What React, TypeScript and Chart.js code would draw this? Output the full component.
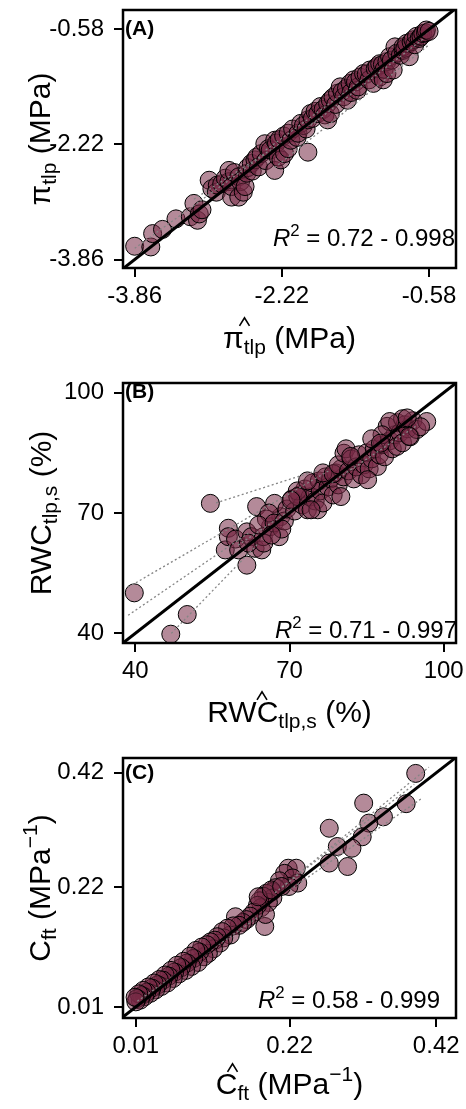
import React, { useEffect, useRef } from "react";
import { Chart, registerables } from "chart.js";

Chart.register(...registerables);

// ---------------- DATA ----------------
// Panel A: turgor loss point (predicted vs observed), MPa
const A_POINTS: number[][] = [
  [-3.86, -3.67], [-3.68, -3.68], [-3.66, -3.49], [-3.55, -3.43], [-3.40, -3.28],
  [-3.24, -3.25], [-3.20, -3.06], [-3.16, -3.30], [-3.14, -3.21], [-3.11, -3.15],
  [-3.03, -2.73], [-3.00, -2.85], [-2.95, -2.90], [-2.94, -2.80], [-2.89, -2.78],
  [-2.85, -2.70], [-2.81, -2.75], [-2.81, -2.59], [-2.78, -2.97], [-2.78, -2.82],
  [-2.75, -2.62], [-2.70, -2.97], [-2.70, -2.68], [-2.68, -2.75], [-2.65, -2.90],
  [-2.63, -2.82], [-2.61, -2.63], [-2.60, -2.55], [-2.56, -2.49], [-2.55, -2.60],
  [-2.52, -2.44], [-2.50, -2.40], [-2.48, -2.54], [-2.45, -2.35], [-2.41, -2.21],
  [-2.40, -2.45], [-2.37, -2.28], [-2.35, -2.30], [-2.30, -2.16], [-2.30, -2.59],
  [-2.28, -2.20], [-2.26, -2.40], [-2.25, -2.15], [-2.23, -2.44], [-2.20, -2.10],
  [-2.19, -2.35], [-2.15, -2.28], [-2.15, -2.06], [-2.12, -2.16], [-2.10, -2.00],
  [-2.05, -2.12], [-2.04, -2.06], [-2.01, -1.92], [-1.98, -1.95], [-1.95, -2.00],
  [-1.93, -2.33], [-1.93, -1.87], [-1.90, -1.78], [-1.88, -1.85], [-1.85, -1.75],
  [-1.82, -1.78], [-1.79, -1.68], [-1.76, -1.72], [-1.74, -1.80], [-1.71, -1.64],
  [-1.71, -1.87], [-1.68, -1.59], [-1.68, -1.78], [-1.65, -1.55], [-1.62, -1.65],
  [-1.60, -1.49], [-1.57, -1.40], [-1.55, -1.47], [-1.53, -1.54], [-1.50, -1.42],
  [-1.49, -1.59], [-1.46, -1.35], [-1.45, -1.48], [-1.42, -1.30], [-1.40, -1.33],
  [-1.38, -1.45], [-1.37, -1.40], [-1.35, -1.26], [-1.31, -1.21], [-1.28, -1.22],
  [-1.25, -1.30], [-1.24, -1.16], [-1.20, -1.35], [-1.18, -1.14], [-1.16, -1.11],
  [-1.13, -1.07], [-1.13, -1.26], [-1.10, -1.08], [-1.09, -1.30], [-1.08, -1.15],
  [-1.05, -1.04], [-1.05, -1.21], [-1.02, -0.97], [-1.00, -1.02], [-0.98, -1.16],
  [-0.96, -0.83], [-0.94, -0.92], [-0.90, -0.95], [-0.87, -0.88], [-0.87, -0.83],
  [-0.85, -0.85], [-0.83, -0.78], [-0.80, -0.97], [-0.78, -0.76], [-0.76, -0.73],
  [-0.74, -0.80], [-0.72, -0.68], [-0.69, -0.71], [-0.67, -0.68], [-0.65, -0.64],
  [-0.62, -0.63], [-0.61, -0.59], [-0.58, -0.61],
];
// grey dotted per-group fits: [x1, y1, x2, y2]
const A_FITS: number[][] = [
  [-3.86, -3.70, -2.40, -2.35],
  [-2.30, -2.55, -0.58, -0.80],
  [-2.40, -2.30, -0.60, -0.62],
  [-3.20, -3.00, -1.80, -1.85],
  [-1.90, -1.95, -0.65, -0.72],
];
const A_IDENTITY = [-4.2, 0];
const A_X_RANGE = [-3.99, -0.28];
const A_Y_RANGE = [-3.98, -0.305];
const A_TICKS = [-3.86, -2.22, -0.58];
const A_TICK_LABELS = ["-3.86", "-2.22", "-0.58"];
const A_R2 = "0.72 - 0.998";

// Panel B: relative water content at turgor loss point, %
const B_POINTS: number[][] = [
  [39.8, 50.1], [46.9, 39.8], [50.1, 44.7], [54.6, 72.4],
  [57.5, 60.8], [58.1, 66.2], [58.1, 64.1], [59.5, 63.5], [60.1, 60.8], [61.7, 65.3],
  [61.7, 57.0], [62.6, 64.1], [63.3, 61.2], [64.6, 60.8], [63.6, 71.6], [64.9, 64.1],
  [66.3, 66.6], [68.0, 64.1], [68.3, 69.1], [67.1, 72.4], [65.5, 68.5], [66.0, 70.0],
  [64.0, 67.0], [62.0, 62.5], [67.0, 67.5], [69.0, 68.0], [69.5, 71.0], [68.5, 66.0],
  [65.0, 62.5], [66.5, 64.5],
  [70.5, 73.5], [71.0, 70.5], [72.0, 74.5], [72.5, 72.0], [73.0, 76.0], [73.5, 70.8],
  [74.0, 74.0], [74.5, 77.5], [75.0, 73.0], [75.5, 70.8], [75.8, 78.0], [76.0, 75.5],
  [76.5, 72.5], [77.0, 79.0], [77.5, 76.5], [78.0, 78.5], [78.5, 74.5], [79.0, 80.0],
  [79.5, 77.0], [80.0, 74.1], [80.5, 79.0], [80.0, 81.0], [71.5, 75.5], [73.5, 78.0],
  [76.5, 80.0], [78.5, 79.8], [79.5, 82.0], [74.2, 70.8], [71.6, 74.1], [70.3, 73.2],
  [80.6, 84.9], [81.0, 86.0], [81.5, 80.5], [82.0, 83.5], [82.5, 78.5], [83.0, 81.5],
  [83.5, 84.5], [84.0, 79.5], [84.5, 82.0], [85.0, 85.0], [85.5, 81.0], [86.0, 83.5],
  [86.5, 86.0], [87.1, 81.6], [87.5, 84.5], [88.0, 87.0], [88.5, 84.0], [89.0, 91.6],
  [89.5, 88.0], [90.0, 86.0], [90.5, 89.5], [90.9, 86.6], [91.0, 92.5], [91.5, 90.0],
  [92.0, 87.5], [92.5, 92.0], [93.0, 91.0], [93.5, 89.0], [94.0, 93.0], [94.8, 90.8],
  [96.7, 92.8], [95.5, 91.5], [92.0, 93.5], [89.5, 92.8], [88.0, 89.5], [86.0, 88.5],
  [85.2, 78.3], [81.9, 84.1], [87.7, 87.4], [92.9, 93.7], [93.3, 89.1],
];
const B_FITS: number[][] = [
  [38.6, 51.5, 78.0, 80.8],
  [55.7, 72.5, 75.6, 80.7],
  [38.6, 44.5, 62.0, 65.0],
  [47.0, 40.0, 64.0, 62.5],
  [60.0, 62.0, 95.0, 92.0],
];
const B_IDENTITY = [30, 110];
const B_X_RANGE = [37.6, 102.4];
const B_Y_RANGE = [37.6, 102.4];
const B_TICKS = [40, 70, 100];
const B_TICK_LABELS = ["40", "70", "100"];
const B_R2 = "0.71 - 0.997";

// Panel C: capacitance at full turgor, MPa^-1
const C_POINTS: number[][] = [
  [0.392, 0.419], [0.379, 0.366], [0.321, 0.367], [0.348, 0.343], [0.328, 0.332],
  [0.274, 0.323], [0.319, 0.308], [0.285, 0.291], [0.305, 0.288], [0.274, 0.262],
  [0.299, 0.256],
  [0.218, 0.253], [0.229, 0.253], [0.213, 0.244], [0.231, 0.227], [0.224, 0.236],
  [0.219, 0.221], [0.206, 0.231], [0.201, 0.219], [0.196, 0.212], [0.188, 0.209],
  [0.197, 0.201], [0.191, 0.193], [0.184, 0.204], [0.179, 0.196], [0.186, 0.151],
  [0.181, 0.184], [0.187, 0.172], [0.176, 0.188], [0.171, 0.176], [0.166, 0.169],
  [0.161, 0.163], [0.156, 0.158], [0.146, 0.168], [0.151, 0.153], [0.177, 0.203],
  [0.195, 0.215], [0.209, 0.221],
  [0.143, 0.152], [0.139, 0.136], [0.135, 0.148], [0.130, 0.131], [0.128, 0.142],
  [0.125, 0.122], [0.121, 0.133], [0.118, 0.127], [0.116, 0.112], [0.112, 0.124],
  [0.109, 0.104], [0.107, 0.119], [0.103, 0.098], [0.100, 0.115], [0.097, 0.106],
  [0.095, 0.088], [0.092, 0.109], [0.089, 0.095], [0.086, 0.081], [0.084, 0.099],
  [0.080, 0.087], [0.078, 0.074], [0.075, 0.090], [0.072, 0.079], [0.069, 0.068],
  [0.066, 0.083], [0.063, 0.071], [0.061, 0.060], [0.058, 0.074], [0.055, 0.064],
  [0.053, 0.052], [0.050, 0.066], [0.047, 0.057], [0.045, 0.046], [0.042, 0.058],
  [0.040, 0.049], [0.037, 0.040], [0.035, 0.052], [0.032, 0.043], [0.030, 0.034],
  [0.027, 0.045], [0.025, 0.036], [0.022, 0.028], [0.020, 0.039], [0.018, 0.030],
  [0.016, 0.022], [0.014, 0.033], [0.012, 0.025], [0.010, 0.019], [0.009, 0.027],
];
const C_FITS: number[][] = [
  [0.20, 0.21, 0.41, 0.43],
  [0.22, 0.215, 0.40, 0.375],
  [0.21, 0.22, 0.39, 0.40],
  [0.012, 0.014, 0.20, 0.20],
  [0.012, 0.02, 0.18, 0.17],
];
const C_IDENTITY = [-0.05, 0.5];
const C_X_RANGE = [-0.0075, 0.447];
const C_Y_RANGE = [-0.0093, 0.446];
const C_TICKS = [0.01, 0.22, 0.42];
const C_TICK_LABELS = ["0.01", "0.22", "0.42"];
const C_R2 = "0.58 - 0.999";

// ---------------- STYLE ----------------
const FONT = '"Liberation Sans", Arial, Helvetica, sans-serif';
const POINT_FILL = "rgba(118, 42, 70, 0.55)";
const FIT_COLOR = "#858585";
const TICK_SIZE = 24;
const TITLE_SIZE = 30;
const R2_SIZE = 24;
const LABEL_SIZE = 21;

type Run = { t: string; k?: "sub" | "sup" | "it"; hat?: boolean };

interface PanelSpec {
  label: string;
  points: number[][];
  fits: number[][];
  identity: number[];
  xRange: number[];
  yRange: number[];
  ticks: number[];
  tickLabels: string[];
  r2: string;
  xTitle: Run[];
  yTitle: Run[];
  canvasTop: number;
  canvasHeight: number;
  area: { left: number; right: number; top: number; bottom: number };
  xTitleBaseline: number;
  yTitleBaseline: number;
  r2Right: number;
  r2Baseline: number;
}

function runSize(r: Run, size: number) {
  return r.k === "sub" || r.k === "sup" ? size * 0.7 : size;
}
function runFont(r: Run, size: number) {
  return `${r.k === "it" ? "italic " : ""}${runSize(r, size)}px ${FONT}`;
}
function runDy(r: Run, size: number) {
  if (r.k === "sub") return size * 0.2;
  if (r.k === "sup") return -size * 0.42;
  return 0;
}
function layoutRuns(ctx: CanvasRenderingContext2D, runs: Run[], size: number) {
  let x = 0;
  const items: { r: Run; x: number; w: number }[] = [];
  for (const r of runs) {
    ctx.font = runFont(r, size);
    const w = ctx.measureText(r.t).width;
    items.push({ r, x, w });
    x += w;
  }
  return { items, width: x };
}
function drawRuns(
  ctx: CanvasRenderingContext2D,
  lay: { items: { r: Run; x: number; w: number }[]; width: number },
  x0: number,
  y0: number,
  size: number
) {
  ctx.textBaseline = "alphabetic";
  ctx.textAlign = "left";
  ctx.fillStyle = "#000";
  let hMin = Infinity;
  let hMax = -Infinity;
  for (const it of lay.items) {
    ctx.font = runFont(it.r, size);
    ctx.fillText(it.r.t, x0 + it.x, y0 + runDy(it.r, size));
    if (it.r.hat) {
      hMin = Math.min(hMin, x0 + it.x);
      hMax = Math.max(hMax, x0 + it.x + it.w);
    }
  }
  if (hMin < hMax) {
    const hx = (hMin + hMax) / 2;
    const hb = y0 - size * 0.74;
    ctx.beginPath();
    ctx.moveTo(hx - 5, hb);
    ctx.lineTo(hx, hb - 8);
    ctx.lineTo(hx + 5, hb);
    ctx.lineWidth = 1.6;
    ctx.strokeStyle = "#000";
    ctx.stroke();
  }
}

function makePlugin(spec: PanelSpec) {
  return {
    id: "panelDecor",
    afterDatasetsDraw(chart: any) {
      const { ctx, chartArea: a } = chart;
      ctx.save();
      ctx.strokeStyle = "#000";
      ctx.lineWidth = 2.5;
      ctx.strokeRect(a.left, a.top, a.right - a.left, a.bottom - a.top);
      ctx.restore();
    },
    afterDraw(chart: any) {
      const { ctx, chartArea: a } = chart;
      const yScale = chart.scales.y;
      ctx.save();
      // x title
      const lx = layoutRuns(ctx, spec.xTitle, TITLE_SIZE);
      drawRuns(ctx, lx, (a.left + a.right) / 2 - lx.width / 2, spec.xTitleBaseline, TITLE_SIZE);
      // y title (rotated)
      const ly = layoutRuns(ctx, spec.yTitle, TITLE_SIZE);
      ctx.save();
      ctx.translate(spec.yTitleBaseline, (a.top + a.bottom) / 2);
      ctx.rotate(-Math.PI / 2);
      drawRuns(ctx, ly, -ly.width / 2, 0, TITLE_SIZE);
      ctx.restore();
      // panel label
      ctx.font = `bold ${LABEL_SIZE}px ${FONT}`;
      ctx.fillStyle = "#000";
      ctx.textAlign = "left";
      ctx.textBaseline = "middle";
      ctx.fillText(spec.label, a.left + 2, yScale.getPixelForValue(spec.ticks[spec.ticks.length - 1]));
      // R^2 annotation
      const r2Runs: Run[] = [
        { t: "R", k: "it" },
        { t: "2", k: "sup" },
        { t: " = " },
        { t: spec.r2 },
      ];
      const lr = layoutRuns(ctx, r2Runs, R2_SIZE);
      drawRuns(ctx, lr, spec.r2Right - lr.width, spec.r2Baseline, R2_SIZE);
      ctx.restore();
    },
  };
}

function Panel({ spec }: { spec: PanelSpec }) {
  const ref = useRef<HTMLCanvasElement>(null);
  useEffect(() => {
    const canvas = ref.current;
    if (!canvas) return;
    const H = spec.canvasHeight;
    const A = spec.area;
    const tickCfg = {
      color: "#000",
      font: { family: FONT, size: TICK_SIZE, lineHeight: 1 },
      autoSkip: false,
      maxRotation: 0,
      minRotation: 0,
      callback: (_v: any, i: number) => spec.tickLabels[i],
    };
    const gridCfg = {
      display: true,
      drawOnChartArea: false,
      drawTicks: true,
      tickLength: 9,
      color: "#000",
      lineWidth: 2,
    };
    const datasets: any[] = [
      {
        data: [
          { x: spec.identity[0], y: spec.identity[0] },
          { x: spec.identity[1], y: spec.identity[1] },
        ],
        showLine: true,
        borderColor: "#000",
        borderWidth: 3,
        pointRadius: 0,
        fill: false,
      },
      ...spec.fits.map((f) => ({
        data: [
          { x: f[0], y: f[1] },
          { x: f[2], y: f[3] },
        ],
        showLine: true,
        borderColor: FIT_COLOR,
        borderWidth: 1.3,
        borderDash: [2, 2.5],
        pointRadius: 0,
        fill: false,
      })),
      {
        data: spec.points.map((p) => ({ x: p[0], y: p[1] })),
        showLine: false,
        pointRadius: 9,
        backgroundColor: POINT_FILL,
        pointBackgroundColor: POINT_FILL,
        borderColor: "#000",
        pointBorderColor: "#000",
        pointBorderWidth: 1,
        borderWidth: 1,
      },
    ];
    const chart = new Chart(canvas, {
      type: "scatter",
      data: { datasets },
      plugins: [makePlugin(spec)],
      options: {
        animation: false,
        responsive: false,
        devicePixelRatio: 1,
        events: [],
        layout: { padding: { left: 0, top: A.top, right: 466 - A.right, bottom: 0 } },
        plugins: { legend: { display: false }, tooltip: { enabled: false } },
        scales: {
          x: {
            type: "linear",
            position: "bottom",
            min: spec.xRange[0],
            max: spec.xRange[1],
            afterBuildTicks: (s: any) => {
              s.ticks = spec.ticks.map((v) => ({ value: v }));
            },
            afterFit: (s: any) => {
              s.height = H - A.bottom;
              s.paddingLeft = 0;
              s.paddingRight = 0;
            },
            ticks: { ...tickCfg, padding: 7 },
            grid: gridCfg,
            border: { display: false },
          },
          y: {
            type: "linear",
            position: "left",
            min: spec.yRange[0],
            max: spec.yRange[1],
            afterBuildTicks: (s: any) => {
              s.ticks = spec.ticks.map((v) => ({ value: v }));
            },
            afterFit: (s: any) => {
              s.width = A.left;
              s.paddingTop = 0;
              s.paddingBottom = 0;
            },
            ticks: { ...tickCfg, padding: 10 },
            grid: gridCfg,
            border: { display: false },
          },
        },
      } as any,
    });
    return () => chart.destroy();
  }, [spec]);
  return (
    <canvas
      ref={ref}
      width={466}
      height={spec.canvasHeight}
      style={{
        position: "absolute",
        left: 0,
        top: spec.canvasTop,
        width: 466,
        height: spec.canvasHeight,
        display: "block",
      }}
    />
  );
}

const PANELS: PanelSpec[] = [
  {
    label: "(A)",
    points: A_POINTS,
    fits: A_FITS,
    identity: A_IDENTITY,
    xRange: A_X_RANGE,
    yRange: A_Y_RANGE,
    ticks: A_TICKS,
    tickLabels: A_TICK_LABELS,
    r2: A_R2,
    xTitle: [{ t: "π", hat: true }, { t: "tlp", k: "sub", hat: true }, { t: " (MPa)" }],
    yTitle: [{ t: "π" }, { t: "tlp", k: "sub" }, { t: " (MPa)" }],
    canvasTop: 0,
    canvasHeight: 370,
    area: { left: 123, right: 460, top: 10, bottom: 268 },
    xTitleBaseline: 348,
    yTitleBaseline: 50,
    r2Right: 455,
    r2Baseline: 246,
  },
  {
    label: "(B)",
    points: B_POINTS,
    fits: B_FITS,
    identity: B_IDENTITY,
    xRange: B_X_RANGE,
    yRange: B_Y_RANGE,
    ticks: B_TICKS,
    tickLabels: B_TICK_LABELS,
    r2: B_R2,
    xTitle: [{ t: "RWC", hat: true }, { t: "tlp,s", k: "sub", hat: true }, { t: " (%)" }],
    yTitle: [{ t: "RWC" }, { t: "tlp,s", k: "sub" }, { t: " (%)" }],
    canvasTop: 370,
    canvasHeight: 370,
    area: { left: 123, right: 459, top: 13, bottom: 273 },
    xTitleBaseline: 352,
    yTitleBaseline: 51,
    r2Right: 457,
    r2Baseline: 268,
  },
  {
    label: "(C)",
    points: C_POINTS,
    fits: C_FITS,
    identity: C_IDENTITY,
    xRange: C_X_RANGE,
    yRange: C_Y_RANGE,
    ticks: C_TICKS,
    tickLabels: C_TICK_LABELS,
    r2: C_R2,
    xTitle: [
      { t: "C", hat: true },
      { t: "ft", k: "sub", hat: true },
      { t: " (MPa" },
      { t: "\u22121", k: "sup" },
      { t: ")" },
    ],
    yTitle: [
      { t: "C" },
      { t: "ft", k: "sub" },
      { t: " (MPa" },
      { t: "\u22121", k: "sup" },
      { t: ")" },
    ],
    canvasTop: 740,
    canvasHeight: 369,
    area: { left: 123, right: 460, top: 18, bottom: 278 },
    xTitleBaseline: 354,
    yTitleBaseline: 50,
    r2Right: 440,
    r2Baseline: 268,
  },
];

export default function App() {
  return (
    <div style={{ position: "absolute", left: 0, top: 0, width: 466, height: 1109, background: "#fff" }}>
      {PANELS.map((p) => (
        <Panel key={p.label} spec={p} />
      ))}
    </div>
  );
}
